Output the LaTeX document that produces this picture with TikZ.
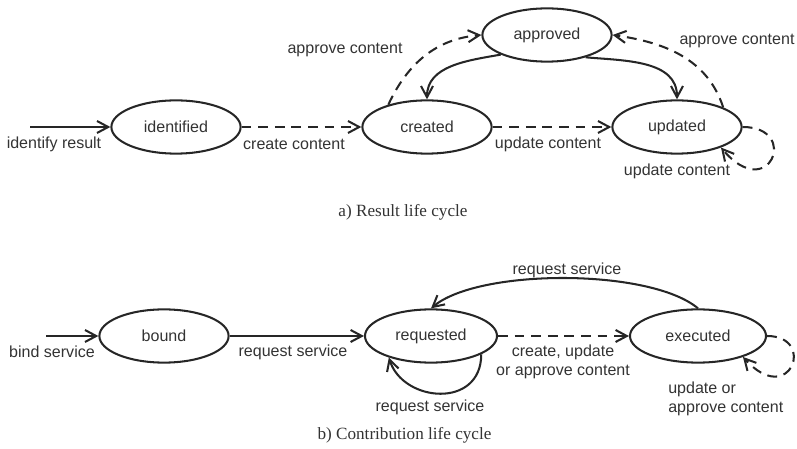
\documentclass[tikz,border=0pt]{standalone}
\usepackage{fontspec}
\setmainfont{Liberation Sans}
\newfontfamily\capfont{Liberation Serif}
\usetikzlibrary{arrows.meta,shapes.geometric,positioning}
\definecolor{ink}{HTML}{262626}
\definecolor{txt}{HTML}{333333}

\begin{document}
\begin{tikzpicture}[x=0.025cm,y=0.025cm,
    state/.style={draw=ink, ellipse, line width=1.45pt, minimum width=3.23cm,
                  minimum height=1.33cm, inner sep=0pt, text=txt,
                  font=\fontsize{11.4}{13}\selectfont},
    trans/.style={draw=ink, line width=1.45pt,
                  -{Straight Barb[length=2.8mm,width=3mm]}},
    opt/.style={trans, dash pattern=on 7pt off 4.8pt},
    lbl/.style={text=txt, inner sep=0pt, font=\fontsize{11.4}{13.5}\selectfont},
    captext/.style={text=txt, inner sep=0pt, font=\capfont\fontsize{12.2}{14}\selectfont}]
  \useasboundingbox (0,0) rectangle (797,448);

  % a) Result life cycle
  \node[state] (identified) at (176,321) {identified};
  \node[state] (created)    at (427,321) {created};
  \node[state] (updated)    at (677,321) {updated};
  \node[state] (approved)   at (547,413) {approved};
  \coordinate (irs) at (30,321);

  \draw[trans] (irs) -- (identified);
  \draw[opt] (identified) -- (created);
  \draw[opt] (created) -- (updated);
  \draw[trans] (approved.203) to[out=190,in=90] (created.north);
  \draw[trans] (approved.-30) to[out=-5,in=90] (updated.north);
  \draw[opt] (created.150) to[out=65,in=185] (approved.west);
  \draw[opt] (updated.23) to[out=108,in=-8] (approved.east);
  \draw[opt] (updated.east) .. controls +(58,0) and +(48,-57) .. (updated.-25);

  \node[lbl] (lirs) at (54,304)  {identify result};
  \node[lbl] (lcc)  at (294,304) {create content};
  \node[lbl] (luc)  at (548,304) {update content};
  \node[lbl] (lac1) at (345,398) {approve content};
  \node[lbl] (lac2) at (737,407) {approve content};
  \node[lbl] (luc2) at (677,277) {update content};
  \node[captext] (capa) at (403,236) {a) Result life cycle};

  % b) Contribution life cycle
  \node[state] (bound)     at (164,112) {bound};
  \node[state, minimum width=3.3cm] (requested) at (431,112) {requested};
  \node[state, minimum width=3.4cm] (executed)  at (698,112) {executed};
  \coordinate (bss) at (46,112);

  \draw[trans] (bss) -- (bound);
  \draw[trans] (bound) -- (requested);
  \draw[opt] (requested) -- (executed);
  \draw[trans] (requested.-20) .. controls +(0,-55) and +(14,-45) .. (requested.207);
  \draw[trans] (executed.north) to[out=140,in=40,looseness=0.6] (requested.north);
  \draw[opt] (executed.east) .. controls +(50,0) and +(47,-52) .. (executed.-25);

  \node[lbl] (lbs)  at (52,96)   {bind service};
  \node[lbl] (lrs1) at (293,96)  {request service};
  \node[lbl] (lrs2) at (430,41)  {request service};
  \node[lbl] (lrs3) at (567,178) {request service};
  \node[lbl, align=center] (lcua) at (563,86) {create, update\\or approve content};
  \node[lbl, align=left, anchor=west] (luac) at (668,49.5) {update or\\approve content};
  \node[captext] (capb) at (404.5,13) {b) Contribution life cycle};
\end{tikzpicture}
\end{document}
